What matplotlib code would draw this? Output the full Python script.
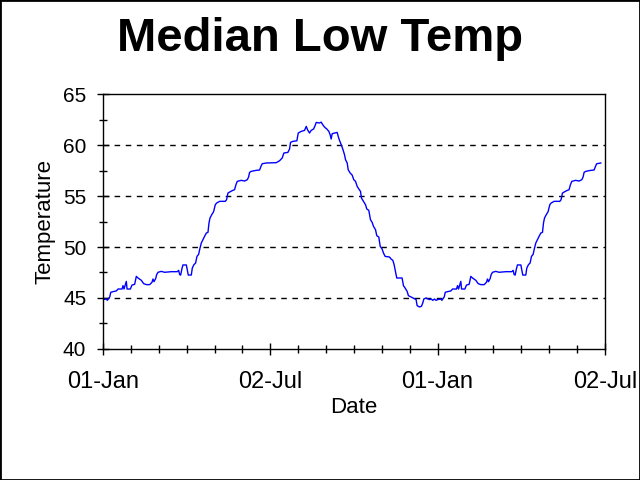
import matplotlib
matplotlib.use('Agg')
import matplotlib.pyplot as plt
from matplotlib.patches import Rectangle
from matplotlib.ticker import MultipleLocator, FixedLocator

plt.rcParams['font.family'] = ['Liberation Sans', 'DejaVu Sans']

# one year of median lows (day of year, deg)
days = [0, 3.6, 4.7, 7.3, 8.4, 10.9, 14.5, 16.4, 20.7, 21.8, 22.9, 24.3, 25.4, 26.2,
        29.8, 31.6, 34.5, 36.3, 38.2, 41.8, 44.3, 47.2, 50.9, 53.4, 54.5, 55.6, 57.4,
        58.5, 60.0, 63.6, 67.2, 70.9, 74.5, 81.0, 82.5, 83.6, 84.7, 86.1, 87.2, 90.9,
        91.9, 93.0, 96.3, 97.4, 99.2, 101.0, 102.5, 104.3, 105.4, 107.2, 109.0, 110.8,
        112.7, 114.5, 115.6, 116.7, 118.8, 120.6, 122.5, 123.9, 127.2, 133.4, 134.8,
        135.5, 136.3, 138.1, 141.7, 143.5, 145.0, 146.5, 150.8, 154.4, 157.4, 158.8,
        159.9, 161.7, 167.2, 170.8, 172.6, 173.7, 178.1, 189.0, 192.6, 195.5, 197.3,
        201.7, 203.5, 204.6, 207.1, 211.5, 213.0, 216.2, 219.9, 221.7, 223.5, 225.3,
        227.1, 229.7, 231.5, 232.6, 236.2, 238.0, 239.8, 241.7, 244.2, 246.4, 247.8,
        248.9, 250.0, 252.6, 255.5, 256.6, 258.0, 259.5, 261.6, 263.5, 264.6, 266.4,
        267.5, 269.7, 271.8, 273.6, 275.5, 277.3, 279.1, 280.9, 282.0, 284.2, 286.4,
        287.8, 290.0, 291.8, 293.6, 295.1, 297.3, 298.7, 300.9, 302.4, 304.5, 306.0,
        307.8, 312.5, 314.3, 316.2, 317.6, 319.1, 320.5, 326.3, 327.8, 329.6, 331.8,
        333.2, 336.1, 339.8, 341.6, 342.7, 345.2, 347.4, 348.9, 350.0, 352.5, 356.2,
        358.0, 359.8, 361.6, 363.4]
temps = [44.84, 44.90, 44.77, 45.10, 45.56, 45.62, 45.69, 45.88, 45.88, 46.21, 45.88,
         46.31, 46.63, 45.88, 45.88, 46.27, 46.34, 47.12, 46.96, 46.73, 46.41, 46.31,
         46.31, 46.54, 46.86, 46.60, 46.90, 47.29, 47.52, 47.61, 47.52, 47.55, 47.58,
         47.58, 47.71, 47.29, 47.25, 47.88, 48.24, 48.24, 47.78, 47.25, 47.25, 47.94,
         48.27, 48.43, 49.08, 49.28, 49.74, 50.39, 50.72, 51.05, 51.37, 51.44, 52.35,
         52.84, 53.20, 53.46, 54.15, 54.31, 54.48, 54.48, 54.64, 54.97, 55.29, 55.39,
         55.56, 55.62, 56.11, 56.44, 56.54, 56.47, 56.60, 56.86, 57.32, 57.42, 57.52,
         57.55, 57.97, 58.17, 58.24, 58.27, 58.46, 58.73, 59.22, 59.28, 59.61, 60.26,
         60.36, 60.42, 61.18, 61.34, 61.44, 61.83, 61.44, 61.18, 61.44, 61.57, 61.93,
         62.22, 62.16, 62.25, 61.99, 61.76, 61.57, 61.34, 61.01, 60.59, 61.11, 61.18,
         61.24, 60.85, 60.46, 60.13, 59.61, 59.05, 58.56, 58.24, 57.58, 57.25, 57.06,
         56.60, 56.44, 55.95, 55.69, 55.46, 54.80, 54.48, 54.15, 53.73, 53.59, 52.68,
         52.42, 52.03, 51.70, 51.11, 50.98, 50.07, 49.80, 49.41, 49.08, 49.02, 48.82,
         48.69, 48.27, 47.61, 46.96, 46.96, 46.21, 45.98, 45.65, 45.23, 45.10, 44.93,
         44.84, 44.25, 44.12, 44.18, 44.51, 44.90, 45.00, 44.84, 44.90, 44.77, 44.90,
         44.77]

# the chart runs on into the first half of the next year (same medians)
YEAR = 365
LAST_DAY = 180
x = days + [d + YEAR for d in days if d <= LAST_DAY]
y = temps + [t for d, t in zip(days, temps) if d <= LAST_DAY]

tick_pos = [0, 182.5, 365, 547.5]
tick_labels = ['01-Jan', '02-Jul', '01-Jan', '02-Jul']

fig = plt.figure(figsize=(6.4, 4.8), dpi=100)
ax = fig.add_axes([0.161, 0.273, 0.784, 0.531])

ax.plot(x, y, color='#0000ff', linewidth=1.0)

ax.set_xlim(0, 547.5)
ax.set_ylim(40, 65)
ax.xaxis.set_major_locator(FixedLocator(tick_pos))
ax.set_xticklabels(tick_labels)
ax.xaxis.set_minor_locator(MultipleLocator(182.5 / 6))
ax.yaxis.set_major_locator(MultipleLocator(5))
ax.yaxis.set_minor_locator(MultipleLocator(2.5))

for yv in [45, 50, 55, 60]:
    ax.axhline(yv, color='black', linestyle=(0, (4, 4)), linewidth=1.0, zorder=0)

ax.tick_params(which='major', direction='inout', length=8, width=1, colors='black')
ax.tick_params(which='minor', direction='inout', length=6, width=1)
ax.tick_params(axis='x', which='major', pad=12, labelsize=17)
ax.tick_params(axis='y', which='major', pad=8, labelsize=15)
for s in ax.spines.values():
    s.set_linewidth(1.0)

ax.set_xlabel('Date', fontsize=16)
ax.set_ylabel('Temperature', fontsize=16)
ax.xaxis.set_label_coords(0.5, -0.19)
ax.yaxis.set_label_coords(-0.094, 0.5)

fig.text(0.5, 1 - 51 / 480, 'Median Low Temp', ha='center', va='baseline',
         fontsize=34, fontweight='bold')

fig.patches.append(Rectangle((0, 0), 1, 1, transform=fig.transFigure, fill=False,
                             edgecolor='black', linewidth=2))

fig.savefig('out.png', dpi=100)
